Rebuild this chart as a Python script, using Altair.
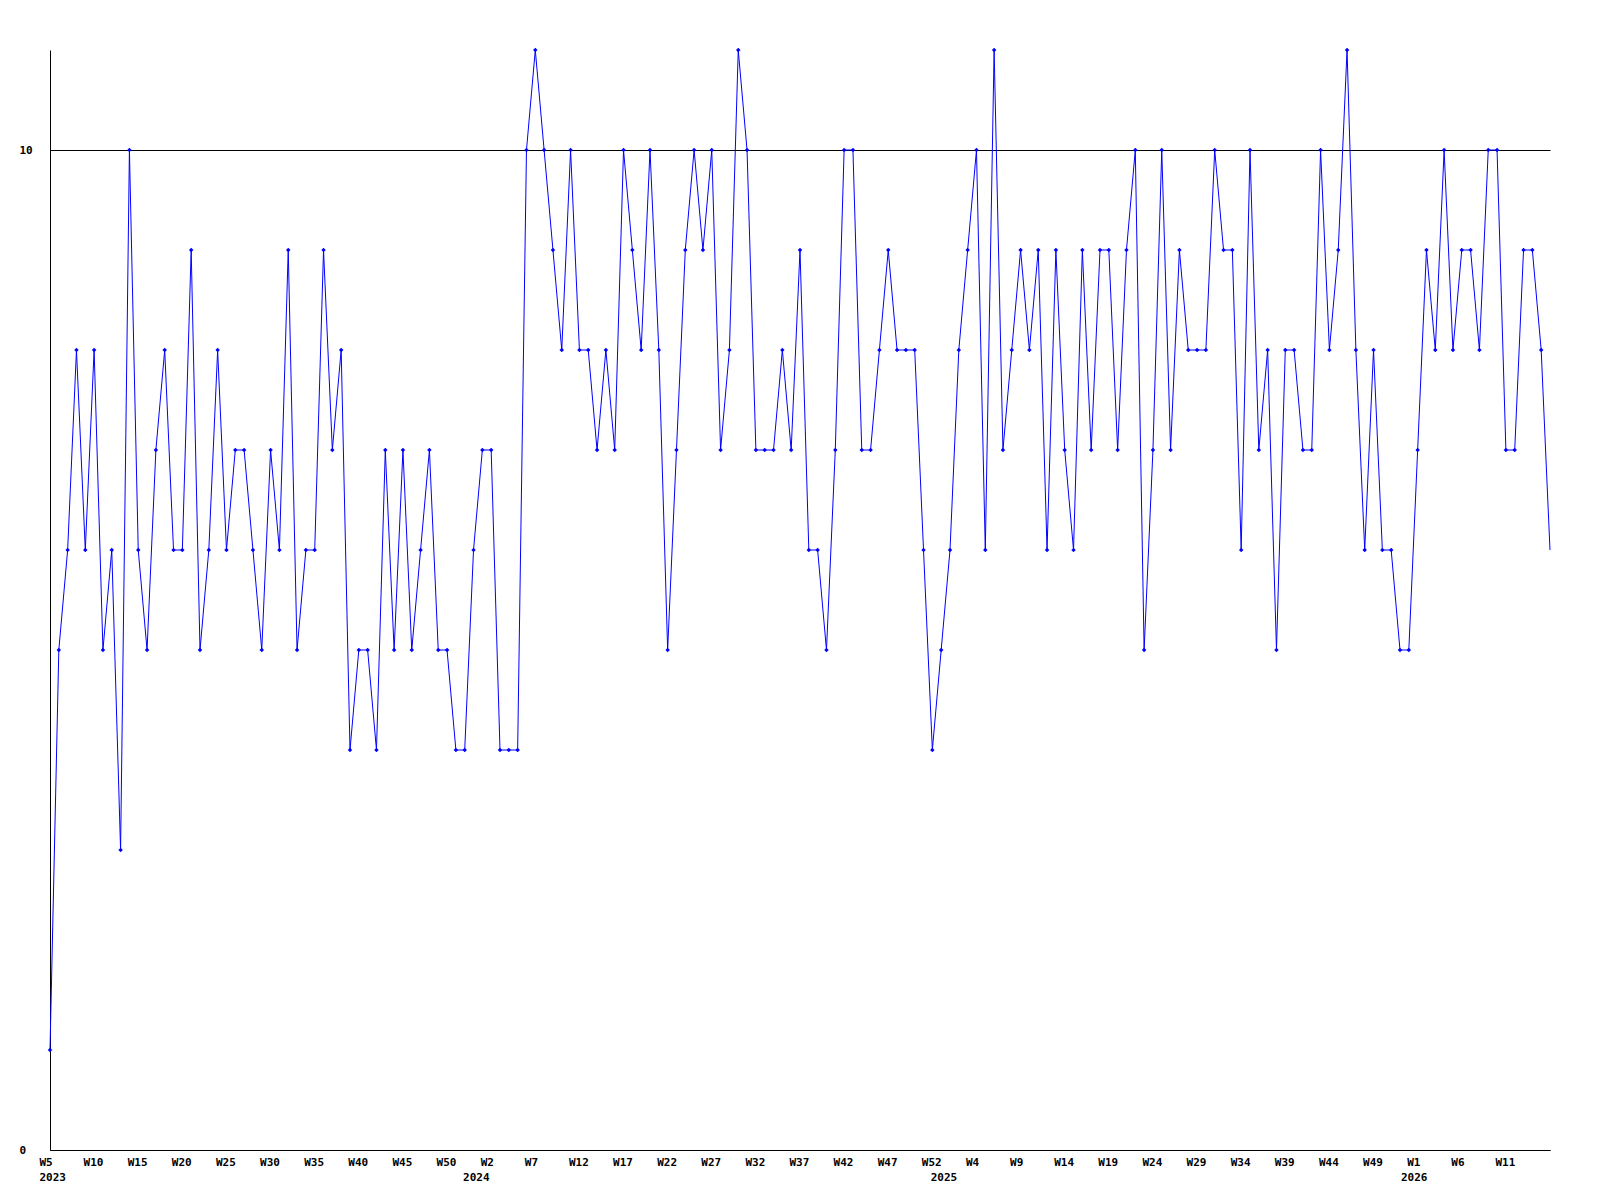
import altair as alt
import pandas as pd

# Weekly values, 2023 W5 onward
values = [
    1, 5, 6, 8, 6, 8, 5, 6, 3, 10,
    6, 5, 7, 8, 6, 6, 9, 5, 6, 8,
    6, 7, 7, 6, 5, 7, 6, 9, 5, 6,
    6, 9, 7, 8, 4, 5, 5, 4, 7, 5,
    7, 5, 6, 7, 5, 5, 4, 4, 6, 7,
    7, 4, 4, 4, 10, 11, 10, 9, 8, 10,
    8, 8, 7, 8, 7, 10, 9, 8, 10, 8,
    5, 7, 9, 10, 9, 10, 7, 8, 11, 10,
    7, 7, 7, 8, 7, 9, 6, 6, 5, 7,
    10, 10, 7, 7, 8, 9, 8, 8, 8, 6,
    4, 5, 6, 8, 9, 10, 6, 11, 7, 8,
    9, 8, 9, 6, 9, 7, 6, 9, 7, 9,
    9, 7, 9, 10, 5, 7, 10, 7, 9, 8,
    8, 8, 10, 9, 9, 6, 10, 7, 8, 5,
    8, 8, 7, 7, 10, 8, 9, 11, 8, 6,
    8, 6, 6, 5, 5, 7, 9, 8, 10, 8,
    9, 9, 8, 10, 10, 7, 7, 9, 9, 8,
    6,
]

week_labels = [
    "W5", "W10", "W15", "W20", "W25", "W30", "W35", "W40", "W45", "W50",
    "W2", "W7", "W12", "W17", "W22", "W27", "W32", "W37", "W42", "W47",
    "W52", "W4", "W9", "W14", "W19", "W24", "W29", "W34", "W39", "W44",
    "W49", "W1", "W6", "W11",
]
week_ticks = [5 * i for i in range(len(week_labels))]

year_labels = ["2023", "2024", "2025", "2026"]
year_ticks = [0, 48, 101, 154.3]

y_tick_values = [0, 10]

df = pd.DataFrame({"idx": list(range(len(values))), "value": values})

FONT = "DejaVu Sans Mono"
BLUE = "#0000FF"

x_scale = alt.Scale(domain=[0, len(values) - 1], nice=False, zero=False)
y_scale = alt.Scale(domain=[0, 11], nice=False, zero=True)

week_expr = "[" + ",".join(f"'{w}'" for w in week_labels) + "][round(datum.value / 5)]"
year_expr = (
    "[" + ",".join(f"'{y}'" for y in year_labels) + "]"
    + "[indexof([" + ",".join(str(t) for t in year_ticks) + "], datum.value)]"
)

label_style = dict(
    labelFont=FONT,
    labelFontSize=11,
    labelFontWeight="bold",
    labelColor="black",
)

line = alt.Chart(df).mark_line(color=BLUE, strokeWidth=1).encode(
    x=alt.X(
        "idx:Q",
        scale=x_scale,
        axis=alt.Axis(
            orient="bottom",
            values=week_ticks,
            labelExpr=week_expr,
            title=None,
            grid=False,
            ticks=False,
            tickSize=0,
            domain=True,
            domainColor="black",
            domainWidth=1,
            labelAlign="left",
            labelBaseline="top",
            labelOffset=-11,
            labelPadding=6,
            labelFlush=False,
            labelOverlap=False,
            labelBound=False,
            **label_style,
        ),
    ),
    y=alt.Y(
        "value:Q",
        scale=y_scale,
        axis=alt.Axis(
            values=y_tick_values,
            title=None,
            grid=True,
            gridColor="black",
            gridOpacity=1,
            gridWidth=1,
            ticks=False,
            tickSize=0,
            domain=True,
            domainColor="black",
            domainWidth=1,
            labelAlign="left",
            labelBaseline="middle",
            labelPadding=31,
            labelFlush=False,
            labelOverlap=False,
            **label_style,
        ),
    ),
)

points = (
    alt.Chart(df)
    .transform_filter(f"datum.idx < {len(values) - 1}")
    .mark_point(shape="diamond", filled=True, size=20, color=BLUE, opacity=1)
    .encode(
        x=alt.X(
            "idx:Q",
            scale=x_scale,
            axis=alt.Axis(
                orient="bottom",
                values=year_ticks,
                labelExpr=year_expr,
                title=None,
                grid=False,
                ticks=False,
                tickSize=0,
                domain=False,
                offset=15,
                labelAlign="left",
                labelBaseline="top",
                labelOffset=-11,
                labelPadding=6,
                labelFlush=False,
                labelOverlap=False,
                labelBound=False,
                **label_style,
            ),
        ),
        y=alt.Y("value:Q", scale=y_scale, axis=None),
    )
)

chart = (
    alt.layer(line, points)
    .resolve_axis(x="independent", y="independent")
    .properties(
        width=1500,
        height=1100,
        autosize=alt.AutoSizeParams(type="none"),
        padding={"left": 42, "top": 42, "right": 20, "bottom": 50},
        background="white",
    )
    .configure_view(stroke=None)
)

chart.save("out.html", embed_options={"renderer": "svg", "actions": False})
